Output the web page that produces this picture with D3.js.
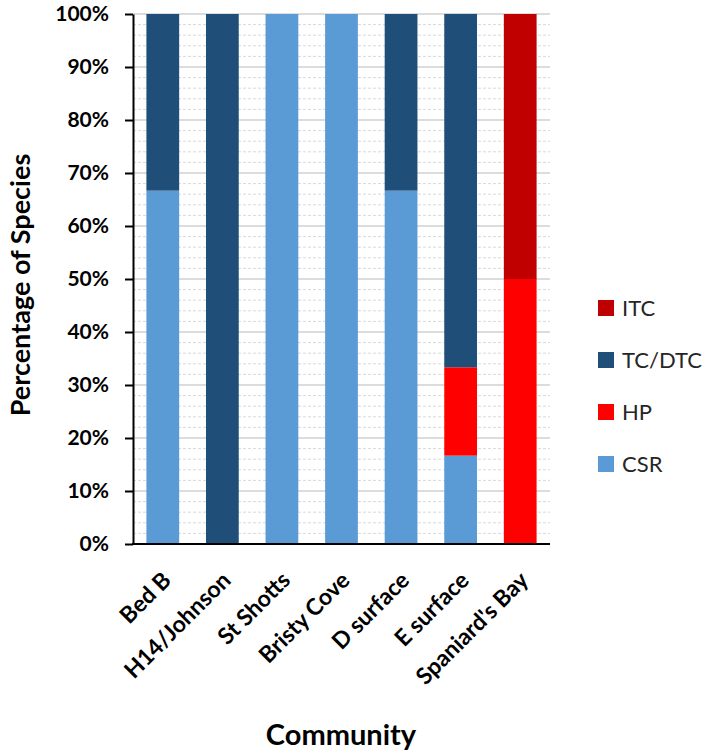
<!DOCTYPE html>
<html><head><meta charset="utf-8">
<script src="https://cdn.jsdelivr.net/npm/d3@7"></script>
<style>body{margin:0;background:#fff}svg{display:block}</style>
</head><body>
<svg id="c" width="709" height="755"></svg>
<script>
const categories = ["Bed B","H14/Johnson","St Shotts","Bristy Cove","D surface","E surface","Spaniard's Bay"];
const seriesNames = ["CSR","HP","TC/DTC","ITC"];
const CSR   = [66.67, 0, 100, 100, 66.67, 16.67, 0];
const HP    = [0, 0, 0, 0, 0, 16.67, 50];
const TCDTC = [33.33, 100, 0, 0, 33.33, 66.67, 0];
const ITC   = [0, 0, 0, 0, 0, 0, 50];
const yTicks = [0,10,20,30,40,50,60,70,80,90,100];
const colors = {"CSR":"#5B9BD5","HP":"#FF0000","TC/DTC":"#1F4E79","ITC":"#C00000"};

const rows = categories.map((c,i)=>({cat:c,"CSR":CSR[i],"HP":HP[i],"TC/DTC":TCDTC[i],"ITC":ITC[i]}));
const stack = d3.stack().keys(seriesNames)(rows);

const svg = d3.select("#c");
const L=133, R=550, T=14, B=544;
const FONT = "Lato, 'Open Sans', sans-serif";
const x = d3.scaleBand().domain(categories).range([L,R]).paddingInner(0.45).paddingOuter(0.225);
const y = d3.scaleLinear().domain([0,100]).range([B,T]);

// minor gridlines (dashed)
svg.append("g").selectAll("line").data(d3.range(0,101,2).filter(v=>v%10!==0)).join("line")
  .attr("x1",L).attr("x2",R).attr("y1",d=>y(d)).attr("y2",d=>y(d))
  .attr("stroke","#d9d9d9").attr("stroke-width",1).attr("stroke-dasharray","3,2");
// major gridlines
svg.append("g").selectAll("line").data(yTicks.slice(1)).join("line")
  .attr("x1",L).attr("x2",R).attr("y1",d=>y(d)).attr("y2",d=>y(d))
  .attr("stroke","#d0d0d0").attr("stroke-width",1.5);

// bars
svg.append("g").selectAll("g").data(stack).join("g")
  .attr("fill",d=>colors[d.key])
  .selectAll("rect").data(d=>d).join("rect")
  .attr("x",d=>x(d.data.cat)).attr("width",x.bandwidth())
  .attr("y",d=>y(d[1])).attr("height",d=>y(d[0])-y(d[1]));

// y axis
const ya = svg.append("g").attr("transform",`translate(${L},0)`)
  .call(d3.axisLeft(y).tickValues(yTicks).tickFormat(d=>d+"%").tickSize(8).tickSizeOuter(0));
ya.select(".domain").attr("stroke","#000").attr("stroke-width",2);
ya.selectAll(".tick line").attr("stroke","#000").attr("stroke-width",2);
ya.selectAll("text").attr("font-family",FONT).attr("font-weight","bold").attr("font-size",21)
  .attr("fill","#000").attr("x",-24);

// x axis line
svg.append("line").attr("x1",L-1).attr("x2",R).attr("y1",B).attr("y2",B)
  .attr("stroke","#000").attr("stroke-width",2);

// x labels
svg.append("g").selectAll("text").data(categories).join("text")
  .attr("transform",d=>`translate(${x(d)+x.bandwidth()/2+4},${B+32}) rotate(-45)`)
  .attr("text-anchor","end").attr("dy","0.35em")
  .attr("font-family",FONT).attr("font-weight","bold").attr("font-size",23).attr("fill","#000")
  .text(d=>d);

// axis titles
svg.append("text").attr("transform","translate(30,285) rotate(-90)")
  .attr("text-anchor","middle").attr("font-family",FONT).attr("font-weight","bold")
  .attr("font-size",27).attr("fill","#000").text("Percentage of Species");
svg.append("text").attr("x",341).attr("y",745)
  .attr("text-anchor","middle").attr("font-family",FONT).attr("font-weight","bold")
  .attr("font-size",29).attr("fill","#000").text("Community");

// legend
const legendOrder = ["ITC","TC/DTC","HP","CSR"];
const lg = svg.append("g").selectAll("g").data(legendOrder).join("g")
  .attr("transform",(d,i)=>`translate(598,${308+i*52})`);
lg.append("rect").attr("x",0).attr("y",-8).attr("width",16).attr("height",16).attr("fill",d=>colors[d]);
lg.append("text").attr("x",24).attr("dy","0.36em").attr("font-family",FONT).attr("font-size",22)
  .attr("fill","#262626").text(d=>d);
</script>
</body></html>
